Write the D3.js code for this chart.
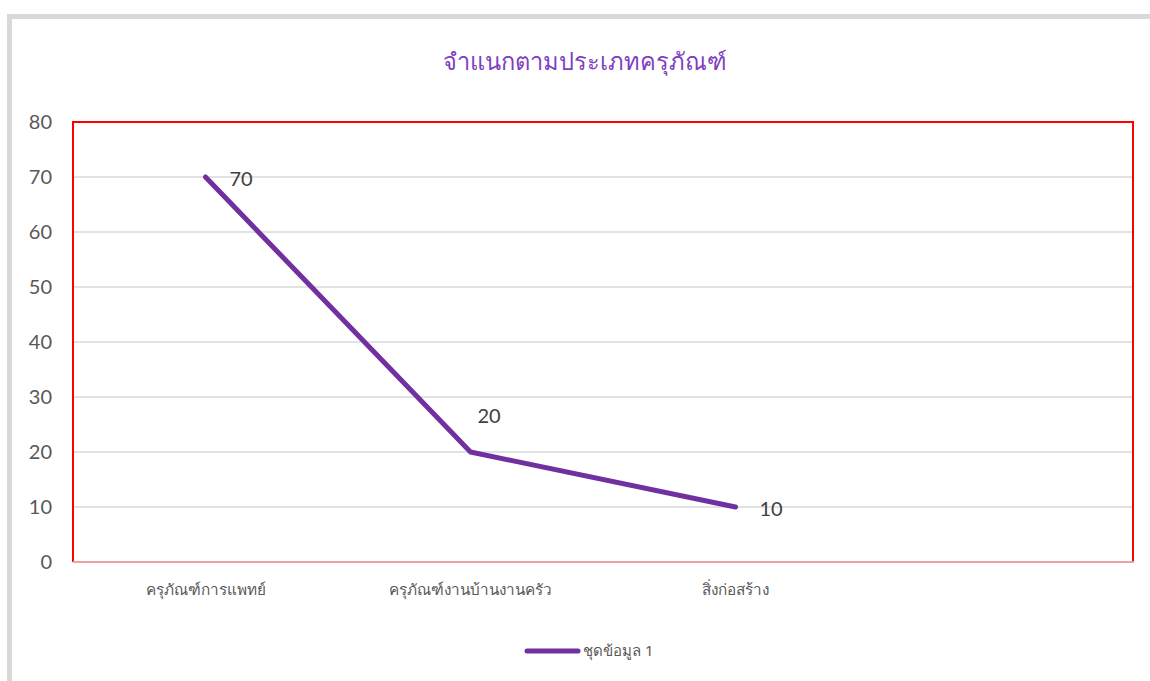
<!DOCTYPE html>
<html><head><meta charset="utf-8">
<script src="https://cdn.jsdelivr.net/npm/d3@7"></script>
<style>
html,body{margin:0;padding:0;background:#fff;overflow:hidden;}
text{font-family:"Noto Sans","DejaVu Sans",sans-serif;}
</style></head>
<body>
<svg id="chart" width="1150" height="681"></svg>
<script>
const title = "จำแนกตามประเภทครุภัณฑ์";
const categories = ["ครุภัณฑ์การแพทย์", "ครุภัณฑ์งานบ้านงานครัว", "สิ่งก่อสร้าง", ""];
const values = [70, 20, 10];
const seriesName = "ชุดข้อมูล 1";
const yTicks = [0, 10, 20, 30, 40, 50, 60, 70, 80];

const svg = d3.select("#chart");
const purple = "#7030a0";

// outer frame
svg.append("rect").attr("x", 9.5).attr("y", 16.5).attr("width", 1200).attr("height", 700)
  .attr("fill", "#fff").attr("stroke", "#d9d9d9").attr("stroke-width", 5);

const plot = {left: 73, top: 122, right: 1133, bottom: 562};

const x = d3.scaleBand().domain(d3.range(categories.length)).range([plot.left, plot.right]).padding(0);
const y = d3.scaleLinear().domain([0, 80]).range([plot.bottom, plot.top]);

// gridlines
svg.append("g").selectAll("line").data(yTicks.filter(d => d > 0)).join("line")
  .attr("x1", plot.left).attr("x2", plot.right)
  .attr("y1", d => y(d)).attr("y2", d => y(d))
  .attr("stroke", "#d9d9d9").attr("stroke-width", 1.5);

// y axis labels
const yAxis = d3.axisLeft(y).tickValues(yTicks).tickSize(0).tickPadding(21);
const yg = svg.append("g").attr("transform", `translate(${plot.left},0)`).call(yAxis);
yg.select(".domain").remove();
yg.selectAll("text").attr("fill", "#595959").style("font-size", "20px")
  .style("font-family", "Lato, 'Open Sans', sans-serif");

// plot border (red)
svg.append("path")
  .attr("d", `M${plot.left},${plot.bottom}V${plot.top}H${plot.right}V${plot.bottom}`)
  .attr("fill", "none").attr("stroke", "#ff0000").attr("stroke-width", 2);
// bottom axis line
svg.append("line").attr("x1", plot.left).attr("x2", plot.right + 1)
  .attr("y1", plot.bottom).attr("y2", plot.bottom)
  .attr("stroke", "#e8a3a3").attr("stroke-width", 2);

// x axis labels
const xAxis = d3.axisBottom(x).tickFormat(i => categories[i]).tickSize(0).tickPadding(22);
const xg = svg.append("g").attr("transform", `translate(0,${plot.bottom})`).call(xAxis);
xg.select(".domain").remove();
xg.selectAll("text").attr("fill", "#595959").style("font-size", "15.3px");

// line
const line = d3.line().x((d, i) => x(i) + x.bandwidth() / 2).y(d => y(d));
svg.append("path").datum(values).attr("d", line)
  .attr("fill", "none").attr("stroke", purple).attr("stroke-width", 5)
  .attr("stroke-linecap", "round").attr("stroke-linejoin", "round");

// data labels
svg.append("g").selectAll("text").data(values).join("text")
  .attr("x", (d, i) => x(i) + x.bandwidth() / 2 + (i === 1 ? 7 : 24))
  .attr("y", (d, i) => y(d) + (i === 1 ? -36 : 2))
  .attr("dy", "0.35em")
  .attr("fill", "#404040").style("font-size", "20px")
  .style("font-family", "Lato, 'Open Sans', sans-serif")
  .text(d => d);

// title
svg.append("text").attr("x", 585).attr("y", 62).attr("text-anchor", "middle")
  .attr("dy", "0.35em").attr("fill", "#7f3fbf").style("font-size", "23.6px").text(title);

// legend
svg.append("line").attr("x1", 527).attr("x2", 578).attr("y1", 651).attr("y2", 651)
  .attr("stroke", purple).attr("stroke-width", 5).attr("stroke-linecap", "round");
svg.append("text").attr("x", 583).attr("y", 651).attr("dy", "0.35em")
  .attr("fill", "#595959").style("font-size", "15px").text(seriesName);
</script>
</body></html>
